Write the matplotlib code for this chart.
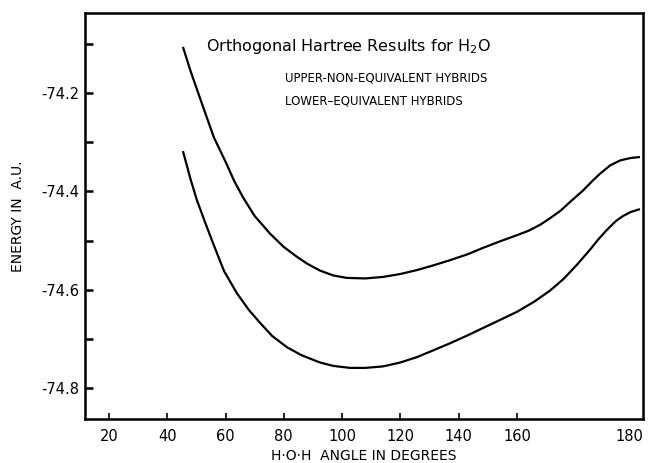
import matplotlib
matplotlib.use("Agg")
import matplotlib.pyplot as plt

# Data (x in the chart's tick units, y in a.u.)
upper_x = [45.4, 48.0, 52.3, 56.0, 60.2, 63.0, 66.0, 70.0, 75.3, 80.0,
           84.5, 88.0, 92.4, 97.0, 101.7, 108.0, 114.0, 120.0, 125.7, 131.0,
           137.0, 143.0, 148.3, 154.0, 160.0, 164.0, 167.9, 171.0, 174.8,
           178.5, 182.7, 186.0, 188.5, 192.0, 195.4, 199.0, 202.2]
upper_y = [-74.106, -74.155, -74.228, -74.290, -74.342, -74.379, -74.412,
           -74.450, -74.486, -74.513, -74.533, -74.547, -74.561, -74.571,
           -74.576, -74.577, -74.574, -74.568, -74.560, -74.551, -74.540,
           -74.528, -74.515, -74.502, -74.489, -74.480, -74.468, -74.456,
           -74.440, -74.420, -74.398, -74.378, -74.364, -74.347, -74.337,
           -74.332, -74.330]

lower_x = [45.4, 48.0, 50.2, 53.0, 55.7, 59.5, 63.9, 68.0, 71.8, 76.0,
           81.1, 86.0, 92.4, 97.0, 102.7, 108.0, 114.0, 120.0, 125.7, 131.0,
           137.0, 143.0, 148.3, 154.0, 160.0, 166.0, 171.3, 176.0, 180.6,
           185.0, 188.0, 190.9, 194.0, 196.4, 199.0, 202.2]
lower_y = [-74.318, -74.375, -74.418, -74.463, -74.505, -74.562, -74.607,
           -74.641, -74.667, -74.694, -74.717, -74.733, -74.748, -74.755,
           -74.759, -74.759, -74.756, -74.748, -74.737, -74.724, -74.709,
           -74.693, -74.678, -74.662, -74.645, -74.624, -74.602, -74.578,
           -74.549, -74.519, -74.497, -74.478, -74.460, -74.450, -74.442,
           -74.436]

x_tick_labels = ["20", "40", "60", "80", "100", "120", "140", "160", "180"]
y_ticks = [-74.1, -74.2, -74.3, -74.4, -74.5, -74.6, -74.7, -74.8]
y_tick_labels = ["", "-74.2", "", "-74.4", "", "-74.6", "", "-74.8"]

title = "Orthogonal Hartree Results for H$_2$O"
note1 = "UPPER-NON-EQUIVALENT HYBRIDS"
note2 = "LOWER\u2013EQUIVALENT HYBRIDS"

plt.rcParams['font.family'] = ['DejaVu Sans']
plt.rcParams['mathtext.fontset'] = 'dejavusans'

fig = plt.figure(figsize=(6.49, 4.63), dpi=100)
ax = fig.add_axes([0.131, 0.095, 0.860, 0.877])

ax.plot(upper_x, upper_y, color='black', lw=1.6, solid_capstyle='butt',
        solid_joinstyle='round')
ax.plot(lower_x, lower_y, color='black', lw=1.6, solid_capstyle='butt',
        solid_joinstyle='round')

ax.set_xlim(11.8, 203.3)
ax.set_ylim(-74.863, -74.037)

xt = [20, 40, 60, 80, 100, 120, 140, 160, 198.5]
ax.set_xticks(xt)
ax.set_xticklabels(x_tick_labels, fontsize=10.5)
ax.get_xaxis().get_major_ticks()[-1].tick1line.set_visible(False)
ax.set_yticks(y_ticks)
ax.set_yticklabels(y_tick_labels, fontsize=10.5)

ax.tick_params(axis='x', direction='in', length=4, width=1.2, pad=7)
ax.tick_params(axis='y', direction='in', length=6, width=1.8, pad=4)
for s in ax.spines.values():
    s.set_linewidth(1.8)

ax.set_xlabel("H\u00b7O\u00b7H  ANGLE IN DEGREES", fontsize=10, labelpad=4)
ax.set_ylabel("ENERGY IN  A.U.", fontsize=10, labelpad=12)

ax.text(0.216, 0.918, title, transform=ax.transAxes, fontsize=11.5,
        ha='left', va='center')
ax.text(0.359, 0.840, note1, transform=ax.transAxes, fontsize=8.5,
        ha='left', va='center')
ax.text(0.359, 0.783, note2, transform=ax.transAxes, fontsize=8.5,
        ha='left', va='center')

fig.savefig("out.png", dpi=100)
